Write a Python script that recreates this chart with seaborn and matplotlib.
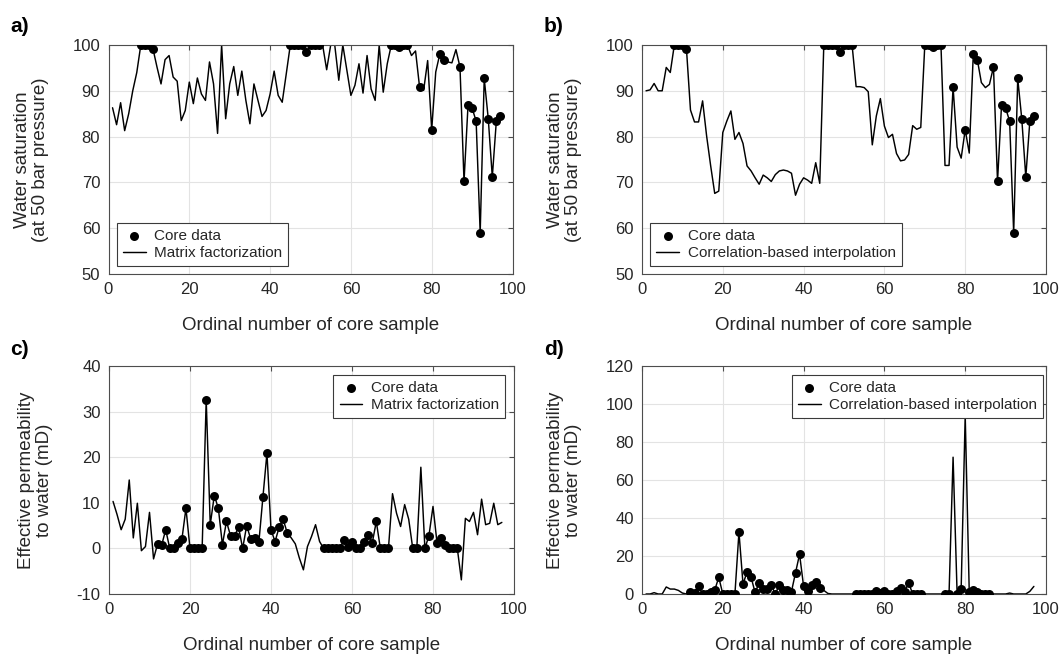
import numpy as np
import pandas as pd
import matplotlib
matplotlib.use("Agg")
import matplotlib.pyplot as plt
import seaborn as sns

# ---------------- data ----------------
samples = np.arange(1, 98)

# Water saturation, matrix factorization (panel a)
sw_mf = [86.3, 82.6, 87.4, 81.3, 85.0, 90.0, 94.0, 100, 100, 100,
         99.2, 95.2, 91.5, 96.8, 97.7, 93.0, 92.1, 83.5, 85.7, 91.9,
         87.2, 92.8, 89.3, 87.9, 96.3, 91.5, 80.7, 100, 83.9, 91.5,
         95.3, 89.0, 94.3, 87.9, 82.8, 91.5, 87.9, 84.4, 85.7, 89.3,
         94.3, 89.0, 87.5, 93.7, 100, 100, 100, 100, 98.4, 100,
         100, 100, 100, 94.6, 100, 100, 92.3, 100, 94.5, 89.0,
         91.2, 95.9, 89.5, 97.7, 90.4, 87.9, 100, 89.7, 95.9, 100,
         100, 99.6, 100, 100, 97.7, 98.7, 90.8, 90.1, 96.6, 81.5,
         94.1, 98.0, 96.8, 96.3, 96.1, 99.0, 95.2, 70.2, 87.0, 86.2,
         83.4, 59.0, 92.7, 83.9, 71.2, 83.4, 84.6]

# Water saturation, correlation-based interpolation (panel b)
sw_cbi = [90.0, 90.2, 91.6, 90.0, 90.0, 95.1, 94.0, 100, 100, 100,
          99.2, 85.8, 83.2, 83.2, 87.8, 80.1, 73.6, 67.6, 68.1, 80.9,
          83.4, 85.6, 79.4, 80.9, 78.5, 73.6, 72.5, 71.0, 69.6, 71.6,
          71.0, 70.2, 71.7, 72.5, 72.7, 72.5, 72.0, 67.2, 69.6, 71.0,
          70.5, 69.8, 74.3, 69.8, 100, 100, 100, 100, 98.4, 100,
          100, 100, 90.9, 90.9, 90.7, 89.8, 78.2, 84.5, 88.3, 82.3,
          79.8, 80.5, 76.3, 74.7, 74.9, 76.1, 82.4, 81.6, 82.0, 100,
          100, 99.6, 100, 100, 73.7, 73.7, 90.8, 77.7, 75.3, 81.5,
          76.4, 98.0, 96.8, 91.8, 90.7, 91.4, 95.2, 70.2, 87.0, 86.2,
          83.4, 59.0, 92.7, 83.9, 71.2, 83.4, 84.6]

# Water saturation core data
sw_core_idx = [8, 9, 10, 11, 45, 46, 47, 48, 49, 50, 51, 52, 70, 71, 72, 73, 74,
               77, 80, 82, 83, 87, 88, 89, 90, 91, 92, 93, 94, 95, 96, 97]
sw_core_val = [100, 100, 100, 99.2, 100, 100, 100, 100, 98.4, 100, 100, 100,
               100, 100, 99.6, 100, 100, 90.8, 81.5, 98.0, 96.8, 95.2, 70.2,
               87.0, 86.2, 83.4, 59.0, 92.7, 83.9, 71.2, 83.4, 84.6]

# Effective permeability, matrix factorization (panel c)
k_mf = [10.3, 7.4, 4.1, 6.4, 15.0, 2.3, 9.9, -0.5, 0.4, 7.9,
        -2.3, 1.0, 0.7, 4.1, 0, 0, 1.2, 2.0, 8.8, 0,
        0, 0, 0, 32.6, 5.2, 11.6, 8.8, 0.8, 5.9, 2.8,
        2.8, 4.6, 0, 5.0, 2.0, 2.3, 1.3, 11.2, 20.9, 4.1,
        1.5, 4.6, 6.4, 3.4, 2.3, 1.0, -2.1, -4.7, 0.4, 2.6,
        5.2, 1.5, 0, 0, 0, 0, 0, 1.8, 0.4, 1.4,
        0, 0, 1.5, 3.0, 1.2, 5.9, 0, 0, 0, 12.0,
        7.7, 4.8, 9.6, 6.4, 0, 0, 17.8, 0, 2.8, 9.2,
        1.2, 2.2, 0.8, 0, 0, 0, -6.9, 6.6, 5.9, 7.9,
        3.0, 10.8, 5.2, 5.5, 9.9, 5.2, 5.7]

# Effective permeability, correlation-based interpolation (panel d)
k_cbi = [0, 0, 0.7, 0, 0, 3.7, 2.6, 2.6, 1.9, 0.5,
         0, 1.0, 0.7, 4.1, 0, 0, 1.2, 2.0, 8.8, 0,
         0, 0, 0, 32.6, 5.2, 11.6, 8.8, 0.8, 5.9, 2.8,
         2.8, 4.6, 0, 5.0, 2.0, 2.3, 1.3, 11.2, 20.9, 4.1,
         1.5, 4.6, 6.4, 3.4, 1.9, 0.3, 0, 0, 0, 0,
         0, 0, 0, 0, 0, 0, 0, 1.8, 0.4, 1.4,
         0, 0, 1.5, 3.0, 1.2, 5.9, 0, 0, 0, 0,
         0, 0, 0, 0, 0, 0, 72.0, 0, 2.8, 94.0,
         1.2, 2.2, 0.8, 0, 0, 0, 0, 0, 0, 0,
         0.5, 0, 0, 0, 0, 1.4, 4.0]

# Permeability core data
k_core_idx = list(range(12, 45)) + list(range(53, 70)) + [75, 76, 78, 79, 81, 82, 83, 84, 85, 86]
k_core_val = [1.0, 0.7, 4.1, 0, 0, 1.2, 2.0, 8.8, 0, 0, 0, 0, 32.6, 5.2, 11.6,
              8.8, 0.8, 5.9, 2.8, 2.8, 4.6, 0, 5.0, 2.0, 2.3, 1.3, 11.2, 20.9,
              4.1, 1.5, 4.6, 6.4, 3.4,
              0, 0, 0, 0, 0, 1.8, 0.4, 1.4, 0, 0, 1.5, 3.0, 1.2, 5.9, 0, 0, 0,
              0, 0, 0, 2.8, 1.2, 2.2, 0.8, 0, 0, 0]

xlabel = "Ordinal number of core sample"
ylabel_sw = "Water saturation\n(at 50 bar pressure)"
ylabel_k = "Effective permeability\nto water (mD)"
panel_letters = ["a)", "b)", "c)", "d)"]
model_names = ["Matrix factorization", "Correlation-based interpolation"]

# ---------------- style ----------------
sns.set_style("white")
plt.rcParams['font.family'] = ['Liberation Sans', 'DejaVu Sans']
plt.rcParams['axes.unicode_minus'] = False
TXT = '#262626'
SPINE = '#4d4d4d'
GRID = '#e3e3e3'

W, H = 1063, 660
fig = plt.figure(figsize=(W / 100, H / 100), dpi=100)


def add_ax(left, top, width, height):
    return fig.add_axes([left / W, 1 - (top + height) / H, width / W, height / H])


panels = [
    dict(box=(108.5, 45, 404, 229), y=sw_mf, cx=sw_core_idx, cy=sw_core_val,
         name=model_names[0], ylim=(50, 100), yt=np.arange(50, 101, 10),
         ylab=ylabel_sw, loc='lower left', anchor=(0.02, 0.035)),
    dict(box=(642, 45, 404, 229), y=sw_cbi, cx=sw_core_idx, cy=sw_core_val,
         name=model_names[1], ylim=(50, 100), yt=np.arange(50, 101, 10),
         ylab=ylabel_sw, loc='lower left', anchor=(0.02, 0.035)),
    dict(box=(109, 366, 405, 228), y=k_mf, cx=k_core_idx, cy=k_core_val,
         name=model_names[0], ylim=(-10, 40), yt=np.arange(-10, 41, 10),
         ylab=ylabel_k, loc='upper right', anchor=(0.978, 0.96)),
    dict(box=(642, 366, 404, 228), y=k_cbi, cx=k_core_idx, cy=k_core_val,
         name=model_names[1], ylim=(0, 120), yt=np.arange(0, 121, 20),
         ylab=ylabel_k, loc='upper right', anchor=(0.993, 0.96)),
]

for p in panels:
    ax = add_ax(*p['box'])
    line_df = pd.DataFrame({'x': samples, 'y': p['y']})
    core_df = pd.DataFrame({'x': p['cx'], 'y': p['cy']})
    sns.lineplot(data=line_df, x='x', y='y', ax=ax, color='black', lw=1.05,
                 label=p['name'], zorder=2)
    sns.scatterplot(data=core_df, x='x', y='y', ax=ax, color='black', s=42,
                    linewidth=0, label='Core data', zorder=3)
    ax.set_xlim(0, 100)
    ax.set_ylim(*p['ylim'])
    ax.set_xticks(np.arange(0, 101, 20))
    ax.set_yticks(p['yt'])
    ax.grid(True, color=GRID, lw=0.8)
    ax.set_axisbelow(True)
    for s in ax.spines.values():
        s.set_color(SPINE)
        s.set_linewidth(0.8)
        s.set_visible(True)
    ax.tick_params(direction='in', length=3.5, width=0.8, color=SPINE,
                   labelsize=12, labelcolor=TXT, top=True, right=True, pad=6)
    ax.set_xlabel(xlabel, fontsize=13.5, color=TXT, labelpad=14)
    ax.set_ylabel(p['ylab'], fontsize=13.5, color=TXT, labelpad=17, linespacing=1.1)
    h, l = ax.get_legend_handles_labels()
    order = [l.index('Core data'), l.index(p['name'])]
    leg = ax.legend([h[i] for i in order], [l[i] for i in order], loc=p['loc'],
                    bbox_to_anchor=p['anchor'], borderaxespad=0, fontsize=11,
                    frameon=True, fancybox=False, framealpha=1,
                    edgecolor='#3a3a3a', handlelength=1.5, handletextpad=0.55,
                    borderpad=0.4, labelspacing=0.2, markerscale=1.0)
    leg.get_frame().set_linewidth(0.8)
    leg.set_zorder(10)
    for t in leg.get_texts():
        t.set_color(TXT)

# panel letters
letter_pos = [(10, 32), (544, 32), (10, 355), (544, 355)]
for letter, (px, py) in zip(panel_letters, letter_pos):
    fig.text(px / W, 1 - py / H, letter, fontsize=15, fontweight='bold',
             color='black', ha='left', va='baseline')

fig.savefig("out.png", dpi=100)
